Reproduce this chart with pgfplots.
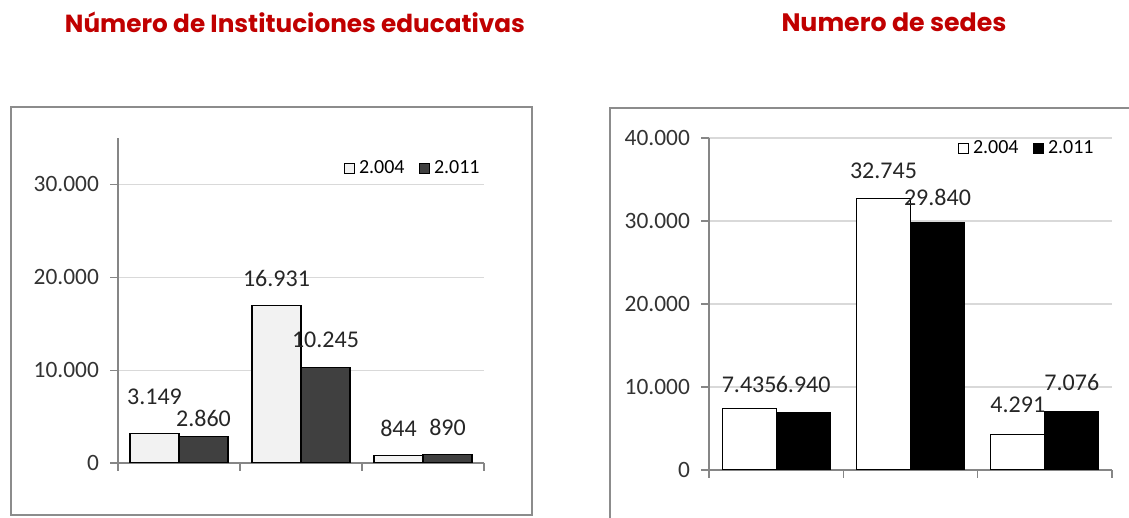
\documentclass[border=0pt]{standalone}
\usepackage{pgfplots}
\pgfplotsset{compat=1.18}
\usepackage{pgfplotstable}
\usepackage{fontspec}
\setmainfont{Carlito}
\newfontfamily\titlefont{Poppins}

\definecolor{titlered}{HTML}{C00000}
\definecolor{axisgray}{HTML}{868686}
\definecolor{gridgray}{HTML}{D9D9D9}
\definecolor{framegray}{HTML}{8C8C8C}
\definecolor{lightbar}{HTML}{F2F2F2}
\definecolor{darkbar}{HTML}{404040}

\pgfkeys{/pgf/number format/.cd,1000 sep={.},assume math mode=true}

% x = category, a = 2004, b = 2011, da/db = label offset above bar top (pt)
\pgfplotstableread{
x a da b db
0 3149 18.5 2860 9.25
1 16931 13.5 10245 14
2 844 13.5 890 13.5
}\insttable

\pgfplotstableread{
x a da b db
0 7435 11.5 6940 14
1 32745 13.5 29840 12.5
2 4291 15 7076 14.5
}\sedestable

\pgfplotsset{
  barchart/.style={
    scale only axis,
    ybar=0pt,
    axis x line*=bottom, axis y line*=left,
    xmin=-0.5, xmax=2.5,
    xtick={-0.5,0.5,1.5,2.5}, xticklabels={},
    ymin=0, scaled y ticks=false,
    ymajorgrids, grid style={color=gridgray, line width=0.6pt},
    axis line style={color=axisgray, line width=0.6pt},
    tick style={color=axisgray, line width=0.6pt},
    major tick length=4pt, tick align=outside,
    yticklabel style={font=\fontsize{11.7}{14}\selectfont, text=black!80, xshift=-2pt},
    nodes near coords,
    every node near coord/.append style={font=\fontsize{12}{14}\selectfont, text=black!85, anchor=center},
    legend columns=2,
    legend style={draw=none, fill=none, inner sep=0pt, font=\fontsize{10}{12}\selectfont,
      /tikz/every even column/.append style={column sep=5pt}},
    legend image code/.code={\draw[##1, draw=black, line width=0.5pt] (0pt,-2.6pt) rectangle (5.2pt,2.6pt);},
  },
}

\begin{document}
\begin{tikzpicture}
\path[use as bounding box] (0,0) rectangle (564.5pt,259pt);

% frames
\draw[framegray, line width=1pt] (5.5pt,1.5pt) rectangle (266pt,205.5pt);
\draw[framegray, line width=1pt] (305pt,-5pt) rectangle (580pt,205pt);

% titles
\node[text=titlered] at (147.5pt,248pt) {\resizebox{230pt}{!}{\titlefont\bfseries Número de Instituciones educativas}};
\node[text=titlered] at (447pt,248pt) {\resizebox{112.5pt}{!}{\titlefont\bfseries Numero de sedes}};

\begin{axis}[barchart,
  at={(59pt,27.5pt)}, anchor=south west,
  width=183pt, height=162.5pt,
  ymax=35000, ytick={0,10000,20000,30000},
  bar width=24.5pt,
  legend style={at={(1,1)}, anchor=north east, yshift=-9pt},
]
\addplot[fill=lightbar, draw=black, line width=0.6pt,
  visualization depends on={\thisrow{da} \as \dlab},
  every node near coord/.append style={yshift=\dlab}]
  table[x=x, y=a] {\insttable};
\addplot[fill=darkbar, draw=black, line width=0.6pt,
  visualization depends on={\thisrow{db} \as \dlab},
  every node near coord/.append style={yshift=\dlab}]
  table[x=x, y=b] {\insttable};
\legend{2.004, 2.011}
\end{axis}

\begin{axis}[barchart,
  at={(354.5pt,24pt)}, anchor=south west,
  width=201.5pt, height=166pt,
  ymax=40000, ytick={0,10000,20000,30000,40000},
  bar width=27pt,
  legend style={at={(1,1)}, anchor=north east, xshift=-7pt, yshift=1pt},
]
\addplot[fill=white, draw=black, line width=0.6pt,
  visualization depends on={\thisrow{da} \as \dlab},
  every node near coord/.append style={yshift=\dlab}]
  table[x=x, y=a] {\sedestable};
\addplot[fill=black, draw=black, line width=0.6pt,
  visualization depends on={\thisrow{db} \as \dlab},
  every node near coord/.append style={yshift=\dlab}]
  table[x=x, y=b] {\sedestable};
\legend{2.004, 2.011}
\end{axis}
\end{tikzpicture}
\end{document}
